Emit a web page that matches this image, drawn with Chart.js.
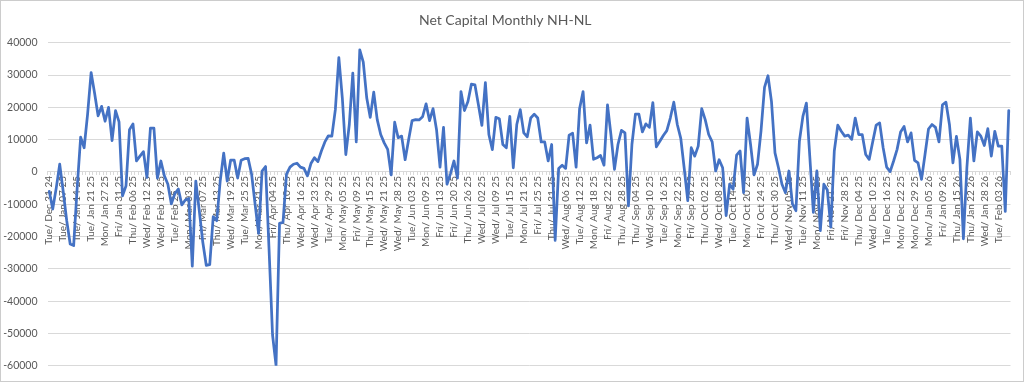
<!DOCTYPE html>
<html>
<head>
<meta charset="utf-8">
<script src="https://cdn.jsdelivr.net/npm/chart.js@4.4.1/dist/chart.umd.min.js"></script>
<style>
html,body{margin:0;padding:0;background:#ffffff;}
canvas{display:block;}
</style>
</head>
<body>
<canvas id="c" width="1024" height="382"></canvas>
<script>
// ---- categories: NYSE trading days from first to last date ----
const firstDay = [2024, 12, 31];
const lastDay = [2026, 2, 6];
const holidays = ['2025-01-01','2025-01-09','2025-01-20','2025-02-17','2025-04-18','2025-05-26',
  '2025-06-19','2025-07-04','2025-09-01','2025-11-27','2025-12-25','2026-01-01','2026-01-19'];
const weekdayNames = ['Sun','Mon','Tue','Wed','Thu','Fri','Sat'];
const monthNames = ['Jan','Feb','Mar','Apr','May','Jun','Jul','Aug','Sep','Oct','Nov','Dec'];

// ---- series values (Net Capital Monthly NH-NL), one per trading day ----
const netHighsLows = [
  -6000,-11500,-5000,2400,-6000,-15000,-22300,-22800,-5000,10800,
  7500,18000,30800,24400,17400,20300,15700,20000,9700,19000,
  15500,-7400,-4300,13100,14900,3400,4900,6300,-1700,13600,
  13600,-1900,3400,-1200,-3800,-9900,-6700,-5300,-10200,-8700,
  -8200,-29200,-2800,-12000,-21700,-28900,-28700,-13800,-15100,-2800,
  5800,-2800,3700,3700,-1900,3600,4100,4200,-700,-10000,
  -19000,300,1700,-24000,-50500,-59900,-15900,-15600,-700,1500,
  2400,2700,1500,1100,-1200,2600,4400,3200,6500,9300,
  11200,11100,19300,35400,22900,5400,14700,30600,9300,37800,
  34000,22900,16900,24700,16200,11600,9000,7000,-900,15400,
  10600,11100,3800,10000,15900,16200,16100,17100,21100,15900,
  19600,13100,1500,13800,-3800,-500,3400,-1900,24900,19000,
  21800,27200,27000,20800,14400,27700,11600,6900,16900,16500,
  8500,7500,17200,1300,14700,19300,12100,10900,16700,17900,
  16700,9300,9300,3400,8500,-21200,1100,2100,1100,11400,
  12000,1500,19600,24900,9000,14500,3900,4400,5100,2100,
  20800,11400,800,8500,12900,12100,-10500,8500,17900,17900,
  12400,14900,13800,21500,7800,9500,11300,12800,16700,21600,
  14700,10400,1000,-8900,7500,4900,8000,19600,16200,11600,
  9300,300,3800,1300,-13500,-3800,-5300,5200,6500,-6400,
  16700,8500,-900,2400,12700,26200,29800,21800,5900,1300,
  -3800,-6400,300,-9900,-12000,9500,17200,21300,4400,-12500,
  300,-18200,-3800,-5600,-17100,6500,14500,12600,11100,11400,
  10100,16700,11600,11600,5400,3900,9300,14500,15200,7500,
  1500,100,3400,7000,12400,14100,9300,12100,3600,2800,
  -2300,5400,13300,14700,13800,9300,20800,21600,14700,2800,
  11000,3900,-20700,1300,16700,3400,12400,11100,8200,13400,
  4900,12600,8000,8000,-12200,19000
];

// ---- value axis ticks ----
const yTickValues = [-60000,-50000,-40000,-30000,-20000,-10000,0,10000,20000,30000,40000];
const labelEvery = 4;
const chartTitle = 'Net Capital Monthly NH-NL';

// build category labels
function pad2(n){ return (n < 10 ? '0' : '') + n; }
const categories = [];
(function(){
  let t = Date.UTC(firstDay[0], firstDay[1]-1, firstDay[2]);
  const end = Date.UTC(lastDay[0], lastDay[1]-1, lastDay[2]);
  while (t <= end) {
    const d = new Date(t);
    const wd = d.getUTCDay();
    const iso = d.getUTCFullYear() + '-' + pad2(d.getUTCMonth()+1) + '-' + pad2(d.getUTCDate());
    if (wd !== 0 && wd !== 6 && holidays.indexOf(iso) < 0) {
      categories.push(weekdayNames[wd] + '/ ' + monthNames[d.getUTCMonth()] + ' ' +
        pad2(d.getUTCDate()) + ' ' + String(d.getUTCFullYear()).slice(2));
    }
    t += 86400000;
  }
})();

const TEXT = '#595959';
const GRID = '#d9d9d9';
Chart.defaults.font.family = 'Lato, "Open Sans", "Liberation Sans", sans-serif';
Chart.defaults.color = TEXT;

const frame = {
  id: 'frame',
  afterDraw(chart) {
    const ctx = chart.ctx;
    ctx.save();
    ctx.strokeStyle = '#cccccc';
    ctx.lineWidth = 1;
    ctx.strokeRect(0.5, 0.5, chart.width - 1, chart.height - 1);
    ctx.restore();
  }
};

new Chart(document.getElementById('c'), {
  type: 'line',
  data: {
    labels: categories,
    datasets: [{
      label: chartTitle,
      data: netHighsLows,
      borderColor: '#4472C4',
      backgroundColor: '#4472C4',
      borderWidth: 2.75,
      pointRadius: 0,
      pointHoverRadius: 0,
      tension: 0,
      fill: false,
      borderJoinStyle: 'round',
      borderCapStyle: 'round'
    }]
  },
  options: {
    responsive: false,
    animation: false,
    devicePixelRatio: 1,
    layout: { padding: { left: 0, right: 13.5, top: 0, bottom: 14 } },
    plugins: {
      legend: { display: false },
      tooltip: { enabled: false },
      title: {
        display: true,
        text: chartTitle,
        color: TEXT,
        font: { size: 14, weight: 'normal' },
        padding: { top: 12, bottom: 14 }
      }
    },
    scales: {
      x: {
        type: 'category',
        position: { y: 0 },
        offset: true,
        grid: { display: true, drawOnChartArea: false, drawTicks: true, tickLength: 3, color: GRID, offset: true },
        border: { display: true, color: GRID, width: 1 },
        ticks: {
          autoSkip: false,
          minRotation: 90,
          maxRotation: 90,
          padding: 1,
          color: TEXT,
          font: { size: 10 },
          callback: function(v, i) { return i % labelEvery === 0 ? this.getLabelForValue(v) : ''; }
        }
      },
      y: {
        min: yTickValues[0],
        max: yTickValues[yTickValues.length - 1],
        afterBuildTicks: (s) => { s.ticks = yTickValues.map(v => ({ value: v })); },
        afterFit: (s) => { s.width = 47.5; },
        grid: { color: GRID, drawTicks: false, lineWidth: 1 },
        border: { display: false },
        ticks: {
          padding: 10,
          color: TEXT,
          font: { size: 10.5 },
          callback: (v) => String(v)
        }
      }
    }
  },
  plugins: [frame]
});
</script>
</body>
</html>
